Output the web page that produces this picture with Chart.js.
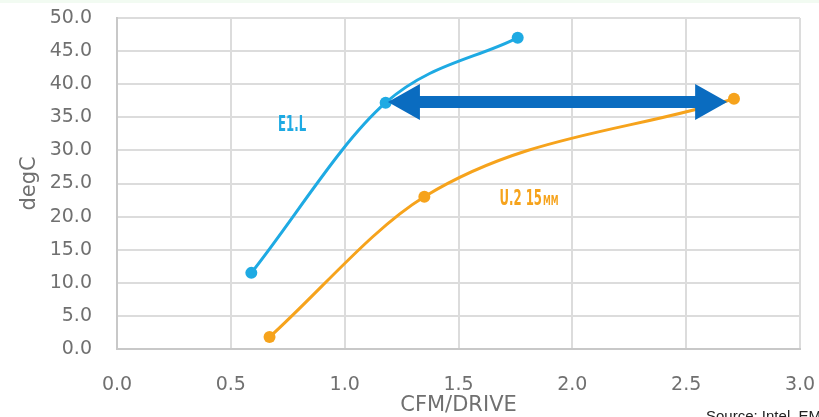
<!DOCTYPE html>
<html><head><meta charset="utf-8">
<script src="https://cdn.jsdelivr.net/npm/chart.js@4.4.1/dist/chart.umd.min.js"></script>
<style>html,body{margin:0;padding:0;background:#fff;}#wrap{width:819px;height:417px;}</style>
</head><body><div id="wrap"><canvas id="c" width="819" height="417"></canvas></div>
<script>
const xTicks = [0.0, 0.5, 1.0, 1.5, 2.0, 2.5, 3.0];
const yTicks = [0, 5, 10, 15, 20, 25, 30, 35, 40, 45, 50];
const e1lX = [0.59, 1.18, 1.76];
const e1lY = [11.5, 37.2, 47.0];
const u2X = [0.67, 1.35, 2.71];
const u2Y = [1.8, 23.0, 37.8];
const arrowFromX = 1.19, arrowToX = 2.68, arrowY = 37.3;
const seriesNames = ['E1.L', 'U.2 15', 'MM'];
const labelPos = [[0.76, 34.2], [1.68, 23.0]];
const sourceText = 'Source: Intel, EMC';

const BLUE = '#1eaae3', ORANGE = '#f6a31c', ARROW = '#0a6cc0', GREY = '#707070';
const FONT = '"DejaVu Sans", "Open Sans", sans-serif';
const LFONT = '"DejaVu Sans Condensed", "DejaVu Sans", sans-serif';

function narrowText(ctx, text, x, y, size, sx) {
  ctx.save();
  ctx.translate(x, y);
  ctx.scale(sx, 1);
  ctx.font = 'bold ' + size + 'px ' + LFONT;
  ctx.fillText(text, 0, 0);
  const w = ctx.measureText(text).width * sx;
  ctx.restore();
  return w;
}

const overlay = {
  id: 'overlay',
  beforeDraw(chart) {
    const ctx = chart.ctx;
    ctx.save();
    ctx.fillStyle = '#f2fbf2';
    ctx.fillRect(0, 0, chart.width, 3);
    ctx.restore();
  },
  afterDatasetsDraw(chart) {
    const ctx = chart.ctx, xs = chart.scales.x, ys = chart.scales.y;
    const x1 = xs.getPixelForValue(arrowFromX), x2 = xs.getPixelForValue(arrowToX);
    const y = ys.getPixelForValue(arrowY);
    const hw = 32, hh = 18, sh = 6;
    ctx.save();
    ctx.fillStyle = ARROW;
    ctx.beginPath();
    ctx.moveTo(x1, y);
    ctx.lineTo(x1 + hw, y - hh);
    ctx.lineTo(x1 + hw, y - sh);
    ctx.lineTo(x2 - hw, y - sh);
    ctx.lineTo(x2 - hw, y - hh);
    ctx.lineTo(x2, y);
    ctx.lineTo(x2 - hw, y + hh);
    ctx.lineTo(x2 - hw, y + sh);
    ctx.lineTo(x1 + hw, y + sh);
    ctx.lineTo(x1 + hw, y + hh);
    ctx.closePath();
    ctx.fill();
    // series labels
    ctx.textAlign = 'left';
    ctx.textBaseline = 'alphabetic';
    ctx.fillStyle = BLUE;
    narrowText(ctx, seriesNames[0], xs.getPixelForValue(labelPos[0][0]) - 12, ys.getPixelForValue(labelPos[0][1]) + 8, 21, 0.62);
    ctx.fillStyle = ORANGE;
    const lx = xs.getPixelForValue(labelPos[1][0]), ly = ys.getPixelForValue(labelPos[1][1]) + 8;
    const w = narrowText(ctx, seriesNames[1], lx, ly, 21, 0.62);
    narrowText(ctx, seriesNames[2], lx + w + 1, ly, 14, 0.62);
    // source
    ctx.font = '15px "Liberation Sans", Arial, sans-serif';
    ctx.fillStyle = '#222';
    ctx.fillText(sourceText, 706, 421);
    ctx.restore();
  }
};

new Chart(document.getElementById('c'), {
  type: 'line',
  data: {
    datasets: [
      { label: seriesNames[0], data: e1lX.map((x, i) => ({x, y: e1lY[i]})), borderColor: BLUE, backgroundColor: BLUE,
        borderWidth: 3, pointRadius: 6, pointBorderWidth: 0, tension: 0.4, cubicInterpolationMode: 'monotone' },
      { label: seriesNames[1] + seriesNames[2], data: u2X.map((x, i) => ({x, y: u2Y[i]})), borderColor: ORANGE, backgroundColor: ORANGE,
        borderWidth: 3, pointRadius: 6, pointBorderWidth: 0, tension: 0.4, cubicInterpolationMode: 'monotone' }
    ]
  },
  options: {
    responsive: false, animation: false, devicePixelRatio: 1,
    layout: { padding: { left: 0, right: 19, top: 18, bottom: 0 } },
    plugins: { legend: { display: false }, tooltip: { enabled: false } },
    scales: {
      x: {
        type: 'linear', min: 0, max: 3,
        afterBuildTicks: s => { s.ticks = xTicks.map(v => ({value: v})); },
        afterFit: s => { s.height = 68; s.paddingLeft = 0; s.paddingRight = 0; },
        grid: { color: '#dcdcdc', lineWidth: 2, drawTicks: false },
        border: { color: '#c8c8c8', width: 2 },
        ticks: { padding: 25, color: GREY, font: { family: FONT, size: 19 }, callback: v => Number(v).toFixed(1) },
        title: { display: true, text: 'CFM/DRIVE', color: GREY, font: { family: FONT, size: 21 }, padding: { top: 0, bottom: -1 } }
      },
      y: {
        type: 'linear', min: 0, max: 50,
        afterBuildTicks: s => { s.ticks = yTicks.map(v => ({value: v})); },
        afterFit: s => { s.width = 117; s.paddingTop = 0; s.paddingBottom = 0; },
        grid: { color: '#dcdcdc', lineWidth: 2, drawTicks: false },
        border: { color: '#c8c8c8', width: 2 },
        ticks: { padding: 25, color: GREY, font: { family: FONT, size: 19 }, callback: v => Number(v).toFixed(1) },
        title: { display: true, text: 'degC', color: GREY, font: { family: FONT, size: 21 }, padding: { top: 17, bottom: 0 } }
      }
    }
  },
  plugins: [overlay]
});
</script>
</body></html>
